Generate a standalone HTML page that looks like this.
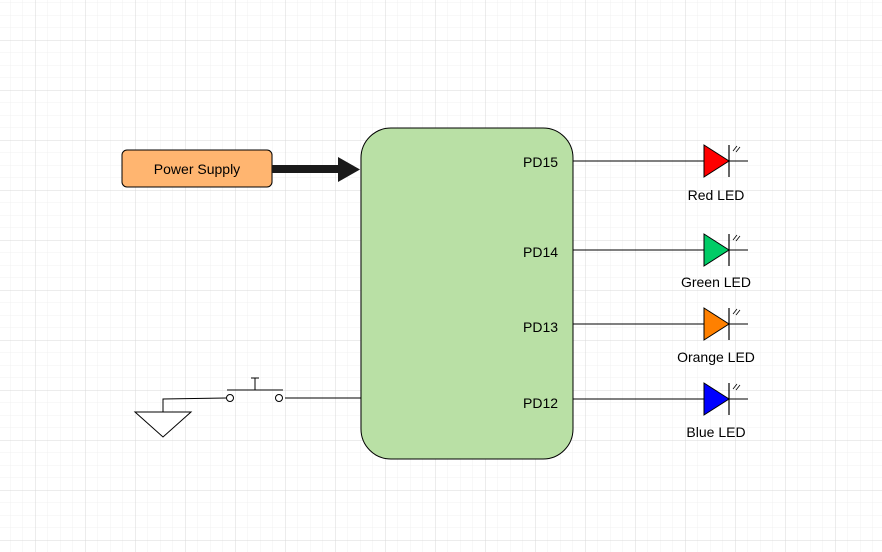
<!DOCTYPE html>
<html><head><style>
html,body{margin:0;padding:0;background:#fff;}
svg{display:block;font-family:"Liberation Sans",Arial,sans-serif;}
</style></head><body>
<svg width="882" height="552" viewBox="0 0 882 552" xmlns="http://www.w3.org/2000/svg">
<defs>
<pattern id="minor" x="10" y="2.5" width="12.5" height="12.5" patternUnits="userSpaceOnUse">
<path d="M0 0 V12.5 M0 0 H12.5" stroke="#f0f0f0" stroke-width="1" fill="none"/>
</pattern>
<pattern id="major" x="35" y="40" width="50" height="50" patternUnits="userSpaceOnUse">
<path d="M0 0 V50 M0 0 H50" stroke="#d8d8d8" stroke-width="1" fill="none"/>
</pattern>
<g id="led">
<line x1="0" y1="0" x2="44" y2="0" stroke="#000" stroke-width="1"/>
<polygon points="0,-16 25,0 0,16" stroke="#000" stroke-width="1"/>
<line x1="25" y1="-16" x2="25" y2="16" stroke="#000" stroke-width="1.2"/>
<path d="M29,-10 l4,-5 M32,-9 l4,-5" stroke="#000" stroke-width="0.8"/>
</g>
</defs>
<rect width="882" height="552" fill="#fff"/>
<rect width="882" height="552" fill="url(#minor)"/>
<rect width="882" height="552" fill="url(#major)"/>

<!-- LED connector lines -->
<g stroke="#000" stroke-width="1">
<line x1="573" y1="161" x2="704" y2="161"/>
<line x1="573" y1="250" x2="704" y2="250"/>
<line x1="573" y1="324" x2="704" y2="324"/>
<line x1="573" y1="399" x2="704" y2="399"/>
</g>

<!-- main block -->
<rect x="361" y="128" width="212" height="331" rx="30" fill="#b9e0a5" stroke="#000" stroke-width="1"/>
<g font-size="14" fill="#000">
<text x="523" y="167">PD15</text>
<text x="523" y="257">PD14</text>
<text x="523" y="332">PD13</text>
<text x="523" y="408">PD12</text>
</g>

<!-- power supply -->
<rect x="122" y="150" width="150" height="37" rx="5" fill="#ffb570" stroke="#000" stroke-width="1"/>
<text x="197" y="174" font-size="14" text-anchor="middle">Power Supply</text>
<line x1="272" y1="169" x2="340" y2="169" stroke="#1a1a1a" stroke-width="8"/>
<polygon points="338,157 360,169.5 338,182" fill="#1a1a1a"/>

<!-- LEDs -->
<g transform="translate(704,161)" fill="#ff0000"><use href="#led"/></g>
<g transform="translate(704,250)" fill="#00cc66"><use href="#led"/></g>
<g transform="translate(704,324)" fill="#ff8000"><use href="#led"/></g>
<g transform="translate(704,399)" fill="#0000ff"><use href="#led"/></g>
<g font-size="14" text-anchor="middle">
<text x="716" y="200">Red LED</text>
<text x="716" y="287">Green LED</text>
<text x="716" y="362">Orange LED</text>
<text x="716" y="437">Blue LED</text>
</g>

<!-- switch & ground -->
<g stroke="#000" stroke-width="1" fill="none">
<line x1="285" y1="398" x2="361" y2="398"/>
<polyline points="226,398 163,399 163,412"/>
<polygon points="135,412 191,412 163,437" fill="#fff"/>
<circle cx="230" cy="398" r="3.5" fill="#fff"/>
<circle cx="279" cy="398" r="3.5" fill="#fff"/>
<line x1="227" y1="390" x2="283" y2="390"/>
<line x1="255" y1="390" x2="255" y2="378"/>
<line x1="251" y1="378" x2="259" y2="378"/>
</g>
</svg>
</body></html>
